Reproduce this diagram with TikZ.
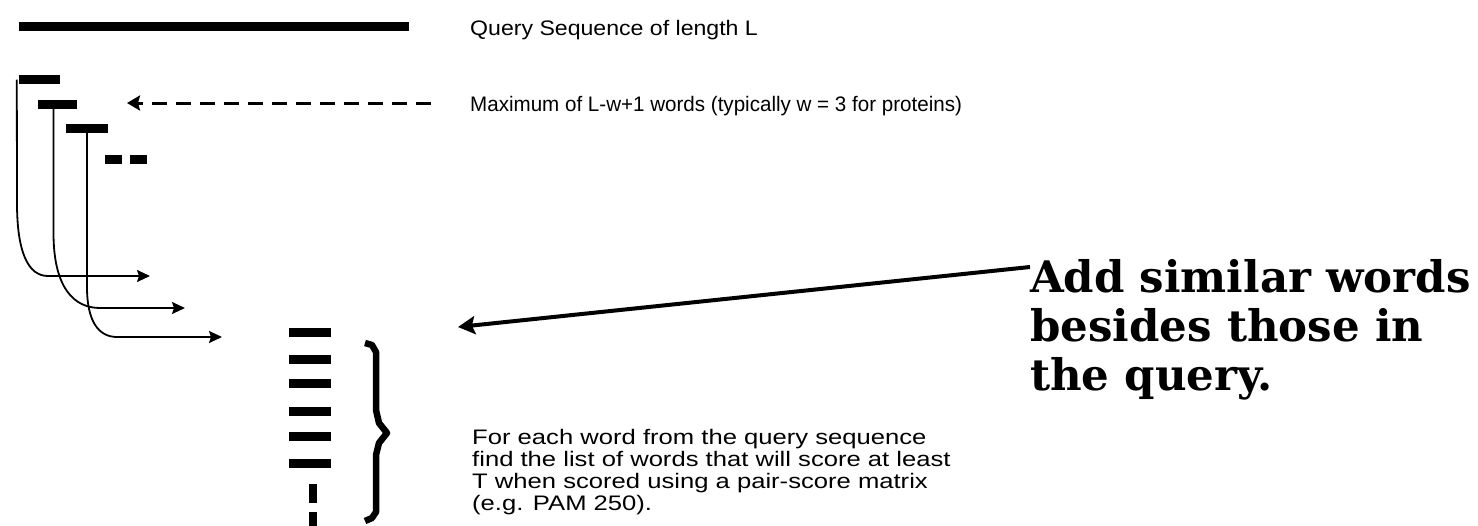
\documentclass[tikz,border=0pt]{standalone}
\usepackage{fontspec}
\usetikzlibrary{arrows.meta}
\newfontfamily\qfont[FakeStretch=1.1]{Liberation Sans}
\newfontfamily\mfont[FakeStretch=0.98]{Liberation Sans}
\newfontfamily\parafont[FakeStretch=1.22]{Liberation Sans}
\newfontfamily\boldserif{DejaVu Serif}
\begin{document}
\begin{tikzpicture}[x=1pt,y=-1pt,
  bar/.style={fill=black,draw=none,inner sep=0pt,minimum height=9pt},
  conn/.style={line width=1.8pt,-{Stealth[length=13pt,width=12pt,inset=2pt]}},
  lbl/.style={inner sep=0pt,anchor=base west},
  para/.style={inner sep=0pt,anchor=base west,font=\parafont\fontsize{21}{22}\selectfont},
  big/.style={inner sep=0pt,anchor=base west,font=\boldserif\bfseries\fontsize{43.5}{49}\selectfont}]
\useasboundingbox (0,0) rectangle (1478,525);
% query sequence
\node[bar,minimum width=390pt] (query) at (214,26.5) {};
% words
\node[bar,minimum width=41pt] (w1) at (39.5,79.5) {};
\node[bar,minimum width=39pt] (w2) at (57.5,104) {};
\node[bar,minimum width=42pt] (w3) at (87,128.5) {};
\node[bar,minimum width=17pt] (d1) at (113.5,159.5) {};
\node[bar,minimum width=17pt] (d2) at (138.5,159.5) {};
% arrow targets
\coordinate (t1) at (150,276);
\coordinate (t2) at (185,308);
\coordinate (t3) at (222,337);
\draw[conn] ([xshift=-2pt]w1.west) -- (17,203) .. controls (17,252) and (28,276) .. (48,276) -- (t1);
\draw[conn] ([xshift=-4pt]w2.south) -- (53.5,233) .. controls (53.5,288) and (74,308) .. (100,308) -- (t2);
\draw[conn] (w3.south) -- (87,287) .. controls (87,322) and (99,337) .. (117,337) -- (t3);
% dashed arrow
\coordinate (dstart) at (431,103);
\coordinate (dend) at (127,103);
\draw[line width=3pt,dash pattern=on 15pt off 9pt,-{Stealth[length=13pt,width=15pt,inset=2pt]}] (dstart) -- (dend);
% stack of similar words
\foreach \i/\yy in {1/332.5,2/359.5,3/383.5,4/411.5,5/436.5,6/463.5}{
  \node[bar,minimum width=42pt] (s\i) at (310,\yy) {};
}
\node[bar,minimum width=8pt,minimum height=19pt] (v1) at (313,493.5) {};
\node[bar,minimum width=8pt,minimum height=14pt] (v2) at (313,519) {};
% brace
\draw[line width=6.5pt,line join=round] (365,343) -- (372,345) -- (376,352) -- (376,410) -- (379,423) -- (387,433) -- (379,443) -- (376,455) -- (376,512) -- (372,518) -- (365,521);
% texts
\node[lbl,font=\qfont\fontsize{21}{22}\selectfont] (qtxt) at (470,35) {Query Sequence of length L};
\node[lbl,font=\mfont\fontsize{21}{22}\selectfont] (mtxt) at (470,111) {Maximum of L-w+1 words (typically w = 3 for proteins)};
\node[para] (p1) at (472,444) {For each word from the query sequence};
\node[para] (p2) at (472,466) {find the list of words that will score at least};
\node[para] (p3) at (472,488) {T when scored using a pair-score matrix};
\node[para] (p4) at (472,510) {(e.g. PAM 250).};
\node[big] (b1) at (1030,292) {Add similar words};
\node[big] (b2) at (1030,341) {besides those in};
\node[big] (b3) at (1030,390) {the query.};
% big arrow
\coordinate (bstart) at (1030,267);
\coordinate (bend) at (458,327);
\draw[line width=4pt,-{Stealth[length=17pt,width=18pt,inset=3pt]}] (bstart) -- (bend);
\end{tikzpicture}
\end{document}
